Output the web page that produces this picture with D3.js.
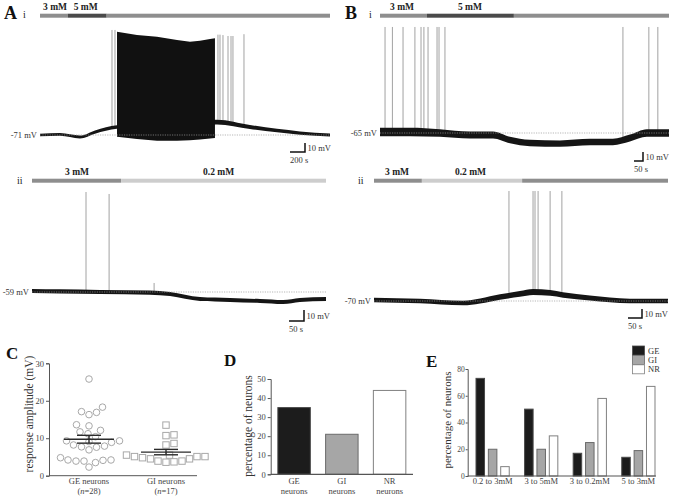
<!DOCTYPE html>
<html>
<head>
<meta charset="utf-8">
<script src="https://cdn.jsdelivr.net/npm/d3@7"></script>
<style>
  body { margin: 0; background: #fff; }
  svg text { font-family: "Liberation Serif", "Times New Roman", serif; }
</style>
</head>
<body>
<svg id="fig" width="673" height="497"></svg>
<script>
// ---- recordings: time (s) / membrane potential (mV) ----
// A i  (GE neuron, 3 -> 5 -> 3 mM)
const aiT = [0, 267, 533, 733, 1027, 2360, 2800, 3467, 3867];
const aiV = [-71, -70.4, -73.2, -67.7, -62.1, -56.6, -62.1, -68.8, -71];
const aiNoise = [1.5, 1.5, 1.6, 1.8, 2, 2.6, 2.2, 1.8, 1.6];
const aiBurstT = [1027, 1293, 1560, 1827, 2000, 2133, 2267, 2333];
const aiBurstTop = [43.8, 40.1, 38.2, 34.6, 32.7, 33.8, 35.7, 36.4];
const aiBurstBottom = [-72.9, -75.5, -77.3, -77.3, -76.8, -76, -75, -74.3];
const aiSpikeT = [960, 1000, 2373, 2400, 2440, 2507, 2547, 2573, 2720];
const aiSpikePeak = [45.7, 45.7, 40.5, 40.5, 40, 39, 39, 39, 41];

// B i  (GI neuron, 3 -> 5 -> 3 mM)
const biT = [0, 167, 333, 500, 628, 722, 833, 1000, 1167, 1294, 1389, 1483, 1606];
const biV = [-63.9, -63.9, -65, -67.2, -67.2, -72.8, -76.1, -76.7, -75, -75, -70.6, -65, -65];
const biNoise = [4.6, 4.6, 4.2, 3.8, 3.8, 3.5, 3.5, 3.5, 3.5, 3.5, 3.8, 4.3, 4.3];
const biSpikeT = [28, 69, 128, 194, 228, 244, 267, 317, 328, 361, 1350, 1494, 1544];
const biSpikePeak = [52.8, 52.8, 52.8, 52.8, 52.8, 52.8, 52.8, 52.8, 52.8, 52.8, 52.8, 52.8, 52.8];

// A ii (3 -> 0.2 mM)
const aiiT = [0, 93, 227, 393, 460, 560, 660, 760, 837, 893, 980];
const aiiV = [-58.1, -58.5, -59, -59.5, -60.8, -65.4, -66.3, -67.2, -68.1, -66.3, -65.4];
const aiiNoise = [1.9, 1.9, 1.9, 1.9, 1.9, 1.8, 1.8, 1.8, 1.8, 1.8, 1.8];
const aiiSpikeT = [180, 257, 407];
const aiiSpikePeak = [31.9, 30.1, -50.8];

// B ii (3 -> 0.2 -> 3 mM)
const biiT = [0, 164, 318, 379, 450, 521, 568, 629, 675, 771, 914, 1050];
const biiV = [-68.9, -70, -72.2, -70, -65.6, -62.2, -60, -61.1, -63.3, -66.7, -70, -70];
const biiNoise = [2.6, 2.6, 2.6, 2.8, 3, 3.2, 3.4, 3.2, 3, 2.8, 2.6, 2.6];
const biiSpikeT = [482, 568, 575, 586, 629, 671];
const biiSpikePeak = [52.2, 52.2, 52.2, 52.2, 52.2, 52.2];

// glucose application bars: [start s, end s, shade, label]
const aiGlucose = [[0, 369, "mid", "3 mM"], [369, 889, "dark", "5 mM"], [889, 3867, "mid", ""]];
const biGlucose = [[0, 261, "mid", "3 mM"], [261, 744, "dark", "5 mM"], [744, 1606, "mid", ""]];
const aiiGlucose = [[0, 297, "mid", "3 mM"], [297, 980, "light", "0.2 mM"]];
const biiGlucose = [[0, 171, "mid", "3 mM"], [171, 529, "light", "0.2 mM"], [529, 1050, "mid", ""]];

// ---- C: response amplitude (mV) ----
const geAmplitude = [25.8, 18.3, 16.9, 16.3, 17.1, 13.3, 13.6, 12.1, 11.7, 11.2, 9.3, 8.9, 9.3, 10.4,
  9.1, 7.7, 7.9, 7.6, 8.2, 6.9, 4.2, 3.9, 3.9, 4.8, 4.1, 4.2, 2.3, 3.5];
const giAmplitude = [13.5, 10.9, 10.7, 8.2, 8.6, 5.5, 5.1, 4.5, 5.1, 5.5, 5.1, 4.5, 4.8, 3.9, 3.6, 3.7, 3.9];
const cGroups = ["GE neurons", "GI neurons"];
const cN = [28, 17];

// ---- D: percentage of neurons ----
const dCategories = ["GE", "GI", "NR"];
const dPercent = [35, 21, 44];

// ---- E: percentage of neurons per glucose change ----
const eChanges = ["0.2 to 3mM", "3 to 5mM", "3 to 0.2mM", "5 to 3mM"];
const eTypes = ["GE", "GI", "NR"];
const eGE = [73, 50, 17, 14];
const eGI = [20, 20, 25, 19];
const eNR = [7, 30, 58, 67];

const svg = d3.select("#fig");
const shade = { dark: "#4a4a4a", mid: "#8e8e8e", light: "#cdcdcd" };
const typeFill = { GE: "#1c1c1c", GI: "#a6a6a6", NR: "#ffffff" };
const typeStroke = { GE: "#4a4a4a", GI: "#6a6a6a", NR: "#808080" };

function drawTrace(p) {
  const x = d3.scaleLinear().domain([0, p.t[p.t.length - 1]]).range([p.x0, p.x1]);
  const y = d3.scaleLinear().domain([p.rest, p.rest + 10]).range([p.yRest, p.yRest - p.px10]);
  const g = svg.append("g");

  // glucose bar + labels
  p.glucose.forEach(s => {
    g.append("rect")
      .attr("x", x(s[0])).attr("y", p.barY - 2)
      .attr("width", x(s[1]) - x(s[0])).attr("height", 4)
      .attr("fill", shade[s[2]]);
  });
  p.glucose.forEach((s, i) => {
    if (!s[3]) return;
    g.append("text")
      .attr("x", x(s[0]) + p.labelDx[i]).attr("y", p.barY - 6)
      .attr("font-size", 9.5).attr("font-weight", "bold").attr("fill", "#222")
      .text(s[3]);
  });

  // spikes
  const foot = d3.scaleLinear().domain(p.t).range(p.v);
  g.selectAll(null).data(p.spikeT).join("line")
    .attr("x1", d => x(d)).attr("x2", d => x(d))
    .attr("y1", d => y(foot(d)))
    .attr("y2", (d, i) => y(p.spikePeak[i]))
    .attr("stroke", "#8a8a8a").attr("stroke-width", 0.8);

  // noisy membrane potential as a band
  const pts = p.t.map((t, i) => ({ t, v: p.v[i], n: p.noise[i] }));
  g.append("path").datum(pts)
    .attr("d", d3.area().x(d => x(d.t)).y0(d => y(d.v - d.n)).y1(d => y(d.v + d.n)).curve(d3.curveMonotoneX))
    .attr("fill", "#151515");

  // burst of action potentials
  if (p.burstT) {
    const b = p.burstT.map((t, i) => ({ t, top: p.burstTop[i], bot: p.burstBottom[i] }));
    g.append("path").datum(b)
      .attr("d", d3.area().x(d => x(d.t)).y0(d => y(d.bot)).y1(d => y(d.top)))
      .attr("fill", "#111");
  }

  // resting potential
  g.append("line")
    .attr("x1", p.x0).attr("x2", p.x1).attr("y1", y(p.rest)).attr("y2", y(p.rest))
    .attr("stroke", "#9a9a9a").attr("stroke-width", 0.7).attr("stroke-dasharray", "1.2,1.2");
  g.append("text")
    .attr("x", p.x0 - 3).attr("y", y(p.rest) + 3)
    .attr("text-anchor", "end").attr("font-size", 8.5).attr("fill", "#333")
    .text(p.rest + " mV");

  // scale bars
  const len = x(p.sbSec) - x(0);
  g.append("path")
    .attr("d", `M${p.sbX - len},${p.sbY}H${p.sbX}V${p.sbY - p.px10}`)
    .attr("fill", "none").attr("stroke", "#111").attr("stroke-width", 1.5);
  g.append("text")
    .attr("x", p.sbX + 2.5).attr("y", p.sbY - p.px10 / 2 + 3)
    .attr("font-size", 8.5).attr("fill", "#333").text("10 mV");
  g.append("text")
    .attr("x", p.sbX - len).attr("y", p.sbY + 11)
    .attr("font-size", 8.5).attr("fill", "#333").text(p.sbSec + " s");
}

drawTrace({ t: aiT, v: aiV, noise: aiNoise, burstT: aiBurstT, burstTop: aiBurstTop, burstBottom: aiBurstBottom,
  spikeT: aiSpikeT, spikePeak: aiSpikePeak, glucose: aiGlucose, labelDx: [3, 6, 0],
  x0: 40, x1: 330, rest: -71, yRest: 135, px10: 9, barY: 15.7, sbX: 305, sbY: 152, sbSec: 200 });
drawTrace({ t: biT, v: biV, noise: biNoise, spikeT: biSpikeT, spikePeak: biSpikePeak,
  glucose: biGlucose, labelDx: [10, 31, 0],
  x0: 380, x1: 669, rest: -65, yRest: 133, px10: 9, barY: 15.7, sbX: 643, sbY: 161, sbSec: 50 });
drawTrace({ t: aiiT, v: aiiV, noise: aiiNoise, spikeT: aiiSpikeT, spikePeak: aiiSpikePeak,
  glucose: aiiGlucose, labelDx: [33, 82],
  x0: 32, x1: 326, rest: -59, yRest: 292, px10: 11, barY: 180.7, sbX: 304, sbY: 321, sbSec: 50 });
drawTrace({ t: biiT, v: biiV, noise: biiNoise, spikeT: biiSpikeT, spikePeak: biiSpikePeak,
  glucose: biiGlucose, labelDx: [11, 33, 0],
  x0: 374, x1: 668, rest: -70, yRest: 301, px10: 9, barY: 180.7, sbX: 642, sbY: 318, sbSec: 50 });

// panel letters
function letter(x, y, t, size) {
  svg.append("text").attr("x", x).attr("y", y).attr("font-size", size)
    .attr("font-weight", "bold").attr("fill", "#111").text(t);
}
function roman(x, y, t) {
  svg.append("text").attr("x", x).attr("y", y).attr("font-size", 10).attr("fill", "#222").text(t);
}
letter(4, 19, "A", 18); roman(23, 18, "i"); roman(17, 184, "ii");
letter(345, 19, "B", 18); roman(369, 18, "i"); roman(358, 184, "ii");
letter(6, 359, "C", 17); letter(224, 366, "D", 17); letter(426, 367, "E", 17);

function styleAxis(a, size) {
  a.selectAll(".domain").attr("stroke", "#555");
  a.selectAll(".tick line").attr("stroke", "#555");
  a.selectAll(".tick text").attr("font-size", size || 8.5).attr("fill", "#444")
    .attr("font-family", '"Liberation Serif","Times New Roman",serif');
}
function yTitle(x, y, t, size) {
  svg.append("text").attr("transform", `translate(${x},${y}) rotate(-90)`)
    .attr("text-anchor", "middle").attr("font-size", size || 11.5).attr("fill", "#333").text(t);
}

// ---- C ----
const yC = d3.scaleLinear().domain([0, 30]).range([475.7, 363.3]);
const xC = d3.scalePoint().domain(cGroups).range([89, 166]);
const axC = svg.append("g").attr("transform", "translate(49,0)")
  .call(d3.axisLeft(yC).tickValues([0, 10, 20, 30]).tickSize(3).tickPadding(2));
styleAxis(axC);
svg.append("line").attr("x1", 49).attr("x2", 197).attr("y1", yC(0)).attr("y2", yC(0))
  .attr("stroke", "#555");
yTitle(33, 414, "response amplitude (mV)");

function dodge(values, r) {
  const placed = [];
  const order = values.map((v, i) => i).sort((a, b) => values[a] - values[b]);
  const out = new Array(values.length);
  order.forEach(i => {
    const yy = yC(values[i]);
    for (let k = 0; k < 400; k++) {
      const off = (k % 2 ? 1 : -1) * Math.ceil(k / 2) * 0.5;
      if (placed.every(p => (p.x - off) ** 2 + (p.y - yy) ** 2 >= (2 * r + 1.2) ** 2)) {
        placed.push({ x: off, y: yy });
        out[i] = { dx: off, y: yy };
        break;
      }
    }
  });
  return out;
}
const geDots = dodge(geAmplitude, 3.3);
svg.append("g").selectAll("circle").data(geDots).join("circle")
  .attr("cx", d => xC("GE neurons") + d.dx).attr("cy", d => d.y).attr("r", 3.3)
  .attr("fill", "none").attr("stroke", "#a8a8a8").attr("stroke-width", 1);
const giDots = dodge(giAmplitude, 3.3);
svg.append("g").selectAll("rect").data(giDots).join("rect")
  .attr("x", d => xC("GI neurons") + d.dx - 3.2).attr("y", d => d.y - 3.2)
  .attr("width", 6.4).attr("height", 6.4)
  .attr("fill", "none").attr("stroke", "#a8a8a8").attr("stroke-width", 1);

[[geAmplitude, "GE neurons"], [giAmplitude, "GI neurons"]].forEach(([vals, grp]) => {
  const m = d3.mean(vals), se = d3.deviation(vals) / Math.sqrt(vals.length);
  const cx = xC(grp);
  const g = svg.append("g").attr("stroke", "#2a2a2a").attr("stroke-width", 1.4);
  g.append("line").attr("x1", cx - 25).attr("x2", cx + 25).attr("y1", yC(m)).attr("y2", yC(m));
  g.append("line").attr("x1", cx).attr("x2", cx).attr("y1", yC(m - se)).attr("y2", yC(m + se));
  [m - se, m + se].forEach(v => g.append("line").attr("x1", cx - 12).attr("x2", cx + 12)
    .attr("y1", yC(v)).attr("y2", yC(v)));
});
cGroups.forEach((grp, i) => {
  svg.append("text").attr("x", xC(grp)).attr("y", 484).attr("text-anchor", "middle")
    .attr("font-size", 8.5).attr("fill", "#444").text(grp);
  const t = svg.append("text").attr("x", xC(grp)).attr("y", 493.5).attr("text-anchor", "middle")
    .attr("font-size", 8.5).attr("fill", "#444");
  t.append("tspan").text("(");
  t.append("tspan").attr("font-style", "italic").text("n");
  t.append("tspan").text("=" + cN[i] + ")");
});

// ---- D ----
const yD = d3.scaleLinear().domain([0, 50]).range([474.3, 379]);
const xD = d3.scaleBand().domain(dCategories).range([270.7, 413]).paddingInner(0.32).paddingOuter(0.15);
const axD = svg.append("g").attr("transform", "translate(270.7,0)")
  .call(d3.axisLeft(yD).tickValues([0, 10, 20, 30, 40, 50]).tickSize(3).tickPadding(2));
styleAxis(axD);
svg.append("g").selectAll("rect").data(dCategories).join("rect")
  .attr("x", d => xD(d)).attr("y", (d, i) => yD(dPercent[i]))
  .attr("width", xD.bandwidth()).attr("height", (d, i) => yD(0) - yD(dPercent[i]))
  .attr("fill", d => typeFill[d]).attr("stroke", d => typeStroke[d]).attr("stroke-width", 1);
svg.append("line").attr("x1", 270.7).attr("x2", 413).attr("y1", yD(0)).attr("y2", yD(0))
  .attr("stroke", "#555").attr("stroke-width", 1.2);
dCategories.forEach(c => {
  const cx = xD(c) + xD.bandwidth() / 2;
  svg.append("text").attr("x", cx).attr("y", 484).attr("text-anchor", "middle")
    .attr("font-size", 8.5).attr("fill", "#444").text(c);
  svg.append("text").attr("x", cx).attr("y", 494).attr("text-anchor", "middle")
    .attr("font-size", 8.5).attr("fill", "#444").text("neurons");
});
yTitle(252, 426, "percentage of neurons");

// ---- E ----
const yE = d3.scaleLinear().domain([0, 80]).range([476, 369]);
const x0E = d3.scaleBand().domain(eChanges).range([476, 655]).paddingInner(0.316).paddingOuter(0);
const x1E = d3.scaleBand().domain(eTypes).range([0, x0E.bandwidth()]).paddingInner(0.31);
const eValues = { GE: eGE, GI: eGI, NR: eNR };
const axE = svg.append("g").attr("transform", "translate(467.7,0)")
  .call(d3.axisLeft(yE).tickValues([0, 20, 40, 60, 80]).tickSize(2).tickPadding(1));
styleAxis(axE, 7.5);
const grpE = svg.append("g").selectAll("g").data(eChanges).join("g")
  .attr("transform", d => `translate(${x0E(d)},0)`);
grpE.selectAll("rect").data((d, i) => eTypes.map(t => ({ t, v: eValues[t][i] }))).join("rect")
  .attr("x", d => x1E(d.t)).attr("y", d => yE(d.v))
  .attr("width", x1E.bandwidth()).attr("height", d => yE(0) - yE(d.v))
  .attr("fill", d => typeFill[d.t]).attr("stroke", d => typeStroke[d.t]).attr("stroke-width", 1);
svg.append("line").attr("x1", 467.7).attr("x2", 656).attr("y1", yE(0)).attr("y2", yE(0))
  .attr("stroke", "#555").attr("stroke-width", 1.2);
eChanges.forEach(c => {
  svg.append("text").attr("x", x0E(c) + x0E.bandwidth() / 2).attr("y", 484).attr("text-anchor", "middle")
    .attr("font-size", 8.5).attr("fill", "#444").text(c);
});
yTitle(450.5, 420, "percentage of neurons", 11);

// legend
eTypes.forEach((t, i) => {
  svg.append("rect").attr("x", 632.5).attr("y", 346 + i * 9.4).attr("width", 12).attr("height", 9)
    .attr("fill", typeFill[t]).attr("stroke", typeStroke[t]).attr("stroke-width", 0.8);
  svg.append("text").attr("x", 648).attr("y", 353.5 + i * 9.4)
    .attr("font-size", 8.5).attr("fill", "#333").text(t);
});
</script>
</body>
</html>
